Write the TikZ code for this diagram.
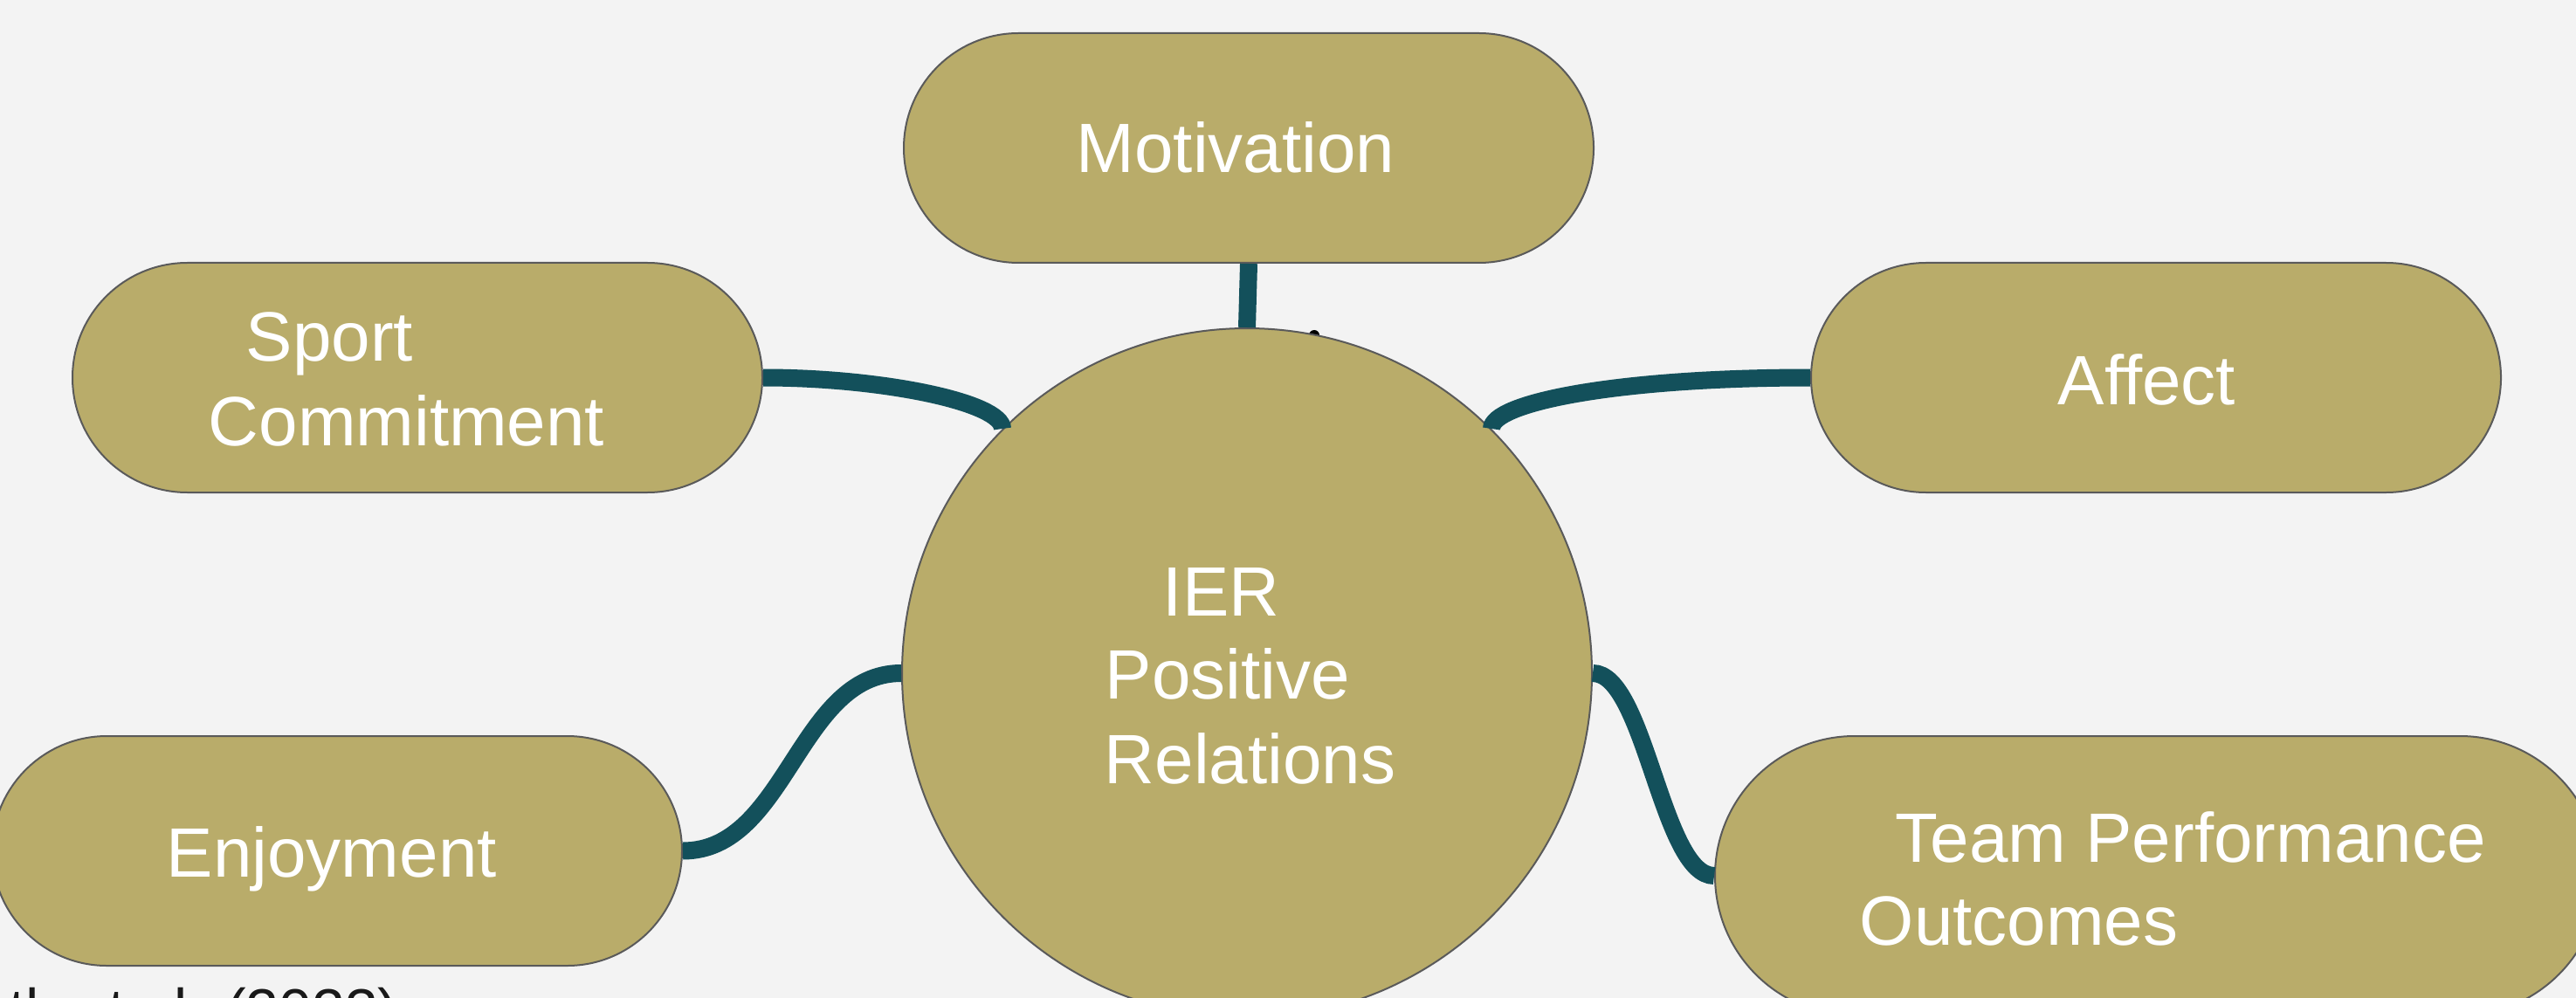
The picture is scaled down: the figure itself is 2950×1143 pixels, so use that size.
\documentclass[tikz,border=0pt]{standalone}
\usepackage{fontspec}
\setmainfont{Liberation Sans}
\definecolor{bgc}{HTML}{F3F3F3}
\definecolor{olivec}{HTML}{B9AC6A}
\definecolor{tealc}{HTML}{13505B}
\definecolor{edgec}{HTML}{5A5A5A}
\begin{document}
\begin{tikzpicture}[x=0.25pt,y=-0.25pt,
  pill/.style={draw=edgec,line width=0.5pt,fill=olivec,rectangle,rounded corners=32.875pt,
    minimum width=197.5pt,minimum height=65.75pt,inner sep=0pt},
  hub/.style={draw=edgec,line width=0.5pt,fill=olivec,circle,minimum size=197.5pt,inner sep=0pt},
  link/.style={draw=tealc,line width=5pt,line cap=butt},
  lbl/.style={anchor=base west,inner sep=0pt,text=white,font=\fontsize{20pt}{24pt}\selectfont}]
\useasboundingbox (0,0) rectangle (2950,1143);
\fill[bgc] (0,0) rectangle (2950,1143);
% small dot behind the hub
\fill[black] (1505,384) circle (6);
% shapes
\node[pill] (mot) at (1430,169.5) {};
\node[pill] (sport) at (478,432.5) {};
\node[pill] (affect) at (2469,432.5) {};
\node[pill] (enjoy) at (386,974.5) {};
\node[pill,minimum width=253.25pt,minimum height=80pt,rounded corners=40pt] (team) at (2470.5,1003) {};
\node[hub] (ier) at (1428,771) {};
% connectors
\draw[link] (mot.south) -- (ier.north);
\draw[link] (sport.east) .. controls +(137,0) and +(0,-30) .. (ier.135);
\draw[link] (affect.west) .. controls +(-220,0) and +(0,-30) .. (ier.45);
\draw[link] (enjoy.east) .. controls +(119,0) and +(-118,0) .. (ier.west);
\draw[link] (ier.east) .. controls +(60,0) and +(-60,0) .. (team.west);
% texts
\node[lbl] (tmot) at (1232,198) {Motivation};
\node[lbl] (tsport1) at (281,413) {Sport};
\node[lbl] (tsport2) at (238,510) {Commitment};
\node[lbl] (taffect) at (2356,463) {Affect};
\node[lbl] (tenjoy) at (190,1004) {Enjoyment};
\node[lbl] (tteam1) at (2170,987) {Team Performance};
\node[lbl] (tteam2) at (2129,1082) {Outcomes};
\node[lbl] (tier1) at (1331,705) {IER};
\node[lbl] (tier2) at (1265,800) {Positive};
\node[lbl] (tier3) at (1264,897) {Relations};
\node[anchor=base west,inner sep=0pt,text=black!90,font=\fontsize{17pt}{20pt}\selectfont] (tcite) at (10,1180) {th et al. (2023)};
\end{tikzpicture}
\end{document}
